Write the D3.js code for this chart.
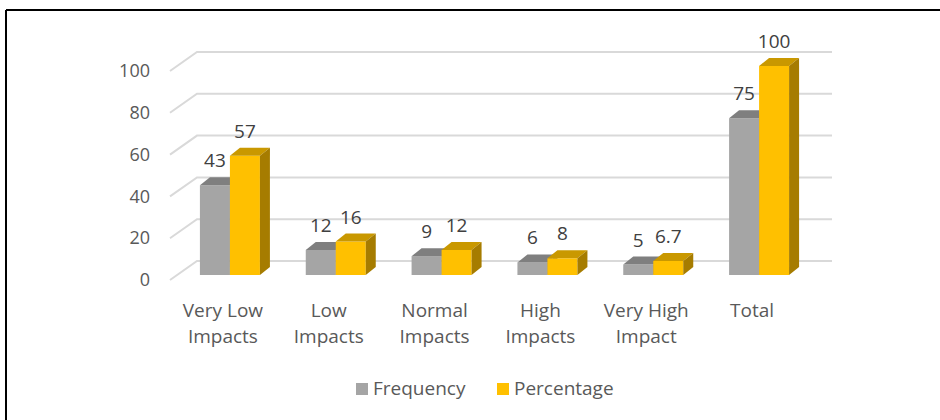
<!DOCTYPE html>
<html>
<head>
<meta charset="utf-8">
<script src="https://cdn.jsdelivr.net/npm/d3@7/dist/d3.min.js"></script>
<style>
  html, body { margin: 0; padding: 0; background: #fff; }
  svg { display: block; font-family: "Open Sans", sans-serif; }
</style>
</head>
<body>
<svg id="chart" width="940" height="420"></svg>
<script>
// Impact levels and their counts / shares
const categories = ["Very Low Impacts", "Low Impacts", "Normal Impacts", "High Impacts", "Very High Impact", "Total"];
const frequency = [43, 12, 9, 6, 5, 75];
const percentage = [57, 16, 12, 8, 6.7, 100];
const yTicks = [0, 20, 40, 60, 80, 100];
const seriesNames = ["Frequency", "Percentage"];

const svg = d3.select("#chart");

// Frame lines (top and left edge of the chart box)
svg.append("line").attr("x1", 6).attr("y1", 10).attr("x2", 940).attr("y2", 10)
  .attr("stroke", "#000").attr("stroke-width", 2);
svg.append("line").attr("x1", 6).attr("y1", 10).attr("x2", 6).attr("y2", 420)
  .attr("stroke", "#000").attr("stroke-width", 2);

// Back wall geometry and 3D depth offsets
const wallLeft = 197, wallRight = 832;
const floorDepth = { dx: -27, dy: 19 };   // front edge of floor relative to back wall
const barFront = { dx: -20, dy: 14 };     // front face of bars relative to back wall
const barDepth = { dx: 10, dy: -8 };      // depth of each bar

const x = d3.scaleBand().domain(categories).range([wallLeft, wallRight]);
const yBack = d3.scaleLinear().domain([0, 100]).range([261, 52]);

const palette = {
  Frequency: { front: "#A5A5A5", top: "#7F7F7F", side: "#6E6E6E" },
  Percentage: { front: "#FFC000", top: "#C99800", side: "#A67C00" }
};

// Gridlines: back wall + floor diagonal
const grid = svg.append("g").attr("stroke", "#D9D9D9").attr("stroke-width", 2).attr("fill", "none");
yTicks.forEach(t => {
  const yb = yBack(t);
  grid.append("path")
    .attr("d", `M${wallLeft + floorDepth.dx},${yb + floorDepth.dy} L${wallLeft},${yb} L${wallRight},${yb}`);
});

// Value axis labels on the front edge
const yFrontAxis = d3.scaleLinear().domain([0, 100])
  .range([yBack(0) + floorDepth.dy, yBack(100) + floorDepth.dy]);
const axis = d3.axisLeft(yFrontAxis).tickValues(yTicks).tickSize(0).tickPadding(0);
const axisG = svg.append("g").attr("transform", "translate(150,0)").call(axis);
axisG.select(".domain").remove();
axisG.selectAll("text")
  .attr("font-family", "Open Sans, sans-serif")
  .attr("font-size", 18)
  .attr("fill", "#595959");

// Bars
const yBar = d3.scaleLinear().domain([0, 100])
  .range([yBack(0) + barFront.dy, yBack(100) + barFront.dy]);
const barW = 30;
const series = [
  { name: "Frequency", values: frequency, offset: -barW },
  { name: "Percentage", values: percentage, offset: 0 }
];

const bars = svg.append("g");
const labels = svg.append("g")
  .attr("font-size", 19).attr("fill", "#404040").attr("text-anchor", "middle");

categories.forEach((c, i) => {
  const cx = x(c) + x.bandwidth() / 2 + barFront.dx;
  series.forEach(s => {
    const v = s.values[i];
    const x0 = cx + s.offset, x1 = x0 + barW;
    const yt = yBar(v), yb = yBar(0);
    const col = palette[s.name];
    const g = bars.append("g");
    g.append("path").attr("fill", col.front)
      .attr("d", `M${x0},${yb} L${x0},${yt} L${x1},${yt} L${x1},${yb} Z`);
    g.append("path").attr("fill", col.top)
      .attr("d", `M${x0},${yt} L${x0 + barDepth.dx},${yt + barDepth.dy} L${x1 + barDepth.dx},${yt + barDepth.dy} L${x1},${yt} Z`);
    g.append("path").attr("fill", col.side)
      .attr("d", `M${x1},${yt} L${x1 + barDepth.dx},${yt + barDepth.dy} L${x1 + barDepth.dx},${yb + barDepth.dy} L${x1},${yb} Z`);
    labels.append("text")
      .attr("x", (x0 + x1) / 2)
      .attr("y", yt - 18)
      .text(d3.format("~g")(v));
  });
});

// Category labels along the front floor edge
const catG = svg.append("g")
  .attr("font-size", 19).attr("fill", "#595959").attr("text-anchor", "middle");
categories.forEach(c => {
  const cx = x(c) + x.bandwidth() / 2 + floorDepth.dx;
  const k = c.lastIndexOf(" ");
  const lines = k > 0 ? [c.slice(0, k), c.slice(k + 1)] : [c];
  const t = catG.append("text").attr("x", cx).attr("y", 317);
  lines.forEach((ln, j) => {
    t.append("tspan").attr("x", cx).attr("y", 317 + j * 26).text(ln);
  });
});

// Legend
const legend = svg.append("g").attr("font-size", 19).attr("fill", "#595959");
const legendX = [356, 497];
seriesNames.forEach((n, i) => {
  const lg = legend.append("g").attr("transform", `translate(${legendX[i]},0)`);
  lg.append("rect").attr("x", 0).attr("y", 383).attr("width", 12).attr("height", 12)
    .attr("fill", palette[n].front);
  lg.append("text").attr("x", 17).attr("y", 395).text(n);
});
</script>
</body>
</html>
